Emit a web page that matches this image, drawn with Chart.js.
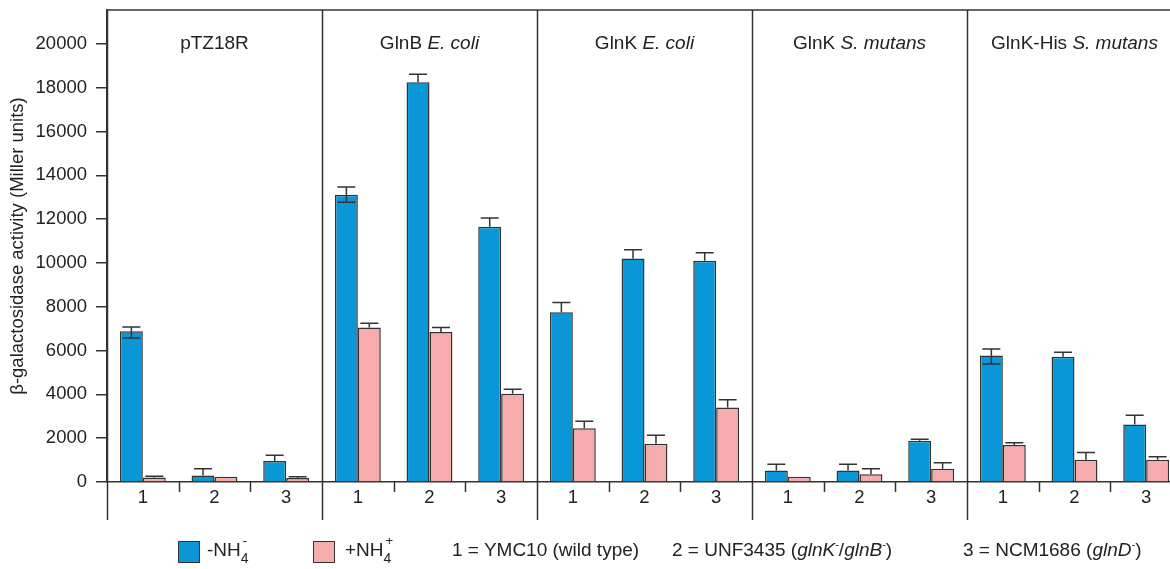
<!DOCTYPE html>
<html>
<head>
<meta charset="utf-8">
<script src="https://cdn.jsdelivr.net/npm/chart.js@4.4.1/dist/chart.umd.min.js"></script>
<style>
  html, body { margin: 0; padding: 0; background: #fff; overflow: hidden; }
  #wrap { position: relative; width: 1182px; height: 569px; }
  .lg { position: absolute; top: 539px; white-space: nowrap; line-height: 22px;
        font-family: "Liberation Sans", Arial, sans-serif; font-size: 19px; color: #222; }
  .box { position: absolute; top: 541px; width: 22px; height: 22px; box-sizing: border-box;
         border: 1.5px solid #333; }
  .st { position: relative; display: inline-block; width: 0.65em; height: 0; }
  .st span { position: absolute; left: 0; line-height: 1; }
  .st .up { left: 2px; top: -22px; font-size: 13px; }
  .st .dn { top: -5px; font-size: 14px; }
  .sp { position: relative; top: -8px; font-size: 11px; line-height: 0; }
  i { font-style: italic; }
</style>
</head>
<body>
<div id="wrap">
  <canvas id="galChart"></canvas>
  <div class="box" style="left:178px; background:#0a97d8;"></div>
  <div class="lg" style="left:207px;">-NH<span class="st"><span class="up">-</span><span class="dn">4</span></span></div>
  <div class="box" style="left:313px; background:#f6abac;"></div>
  <div class="lg" style="left:345px;">+NH<span class="st"><span class="up">+</span><span class="dn">4</span></span></div>
  <div class="lg" style="left:452px;">1 = YMC10 (wild type)</div>
  <div class="lg" style="left:672px;">2 = UNF3435 (<i>glnK</i><span class="sp">-</span>/<i>glnB</i><span class="sp">-</span>)</div>
  <div class="lg" style="left:963px;">3 = NCM1686 (<i>glnD</i><span class="sp">-</span>)</div>
</div>
<script>
// panels (plasmid / protein) and strains
const groups = ['pTZ18R', 'GlnB', 'GlnK', 'GlnK', 'GlnK-His'];
const species = ['', 'E. coli', 'E. coli', 'S. mutans', 'S. mutans'];
const strains = ['1', '2', '3'];
const labels = groups.flatMap(() => strains);

// -NH4 (blue)
const minusNH4 = [6880, 300, 960, 13120, 18250, 11650, 7750, 10200, 10100, 520, 520, 1880, 5770, 5720, 2630];
const minusUp = [200, 300, 260, 350, 370, 400, 450, 400, 370, 290, 290, 70, 300, 200, 420];
const minusDown = [300, 0, 0, 350, 0, 0, 0, 0, 0, 0, 0, 0, 380, 0, 0];

// +NH4 (pink)
const plusNH4 = [200, 240, 180, 7050, 6850, 4030, 2450, 1750, 3400, 240, 350, 600, 1690, 1020, 1020];
const plusUp = [60, 0, 60, 200, 200, 200, 320, 380, 350, 0, 250, 280, 100, 330, 130];
const plusDown = [0, 0, 0, 0, 0, 0, 0, 0, 0, 0, 0, 0, 0, 0, 0];

const yTicks = [0, 2000, 4000, 6000, 8000, 10000, 12000, 14000, 16000, 18000, 20000];

const FONT = '"Liberation Sans", Arial, sans-serif';
const LINE = '#333';

// error bars, panel frame and titles
const panelFrame = {
    id: 'panelFrame',
    afterDatasetsDraw(chart) {
        const ctx = chart.ctx;
        const y = chart.scales.y;
        ctx.save();
        ctx.strokeStyle = LINE;
        ctx.lineWidth = 1.5;
        [[minusNH4, minusUp, minusDown, 0], [plusNH4, plusUp, plusDown, 1]].forEach(([vals, up, down, d]) => {
            chart.getDatasetMeta(d).data.forEach((bar, i) => {
                const cx = bar.x;
                const half = 9;
                if (up[i] > 0) {
                    const t = y.getPixelForValue(vals[i] + up[i]);
                    ctx.beginPath();
                    ctx.moveTo(cx, bar.y); ctx.lineTo(cx, t);
                    ctx.moveTo(cx - half, t); ctx.lineTo(cx + half, t);
                    ctx.stroke();
                }
                if (down[i] > 0) {
                    const b = y.getPixelForValue(vals[i] - down[i]);
                    ctx.beginPath();
                    ctx.moveTo(cx, bar.y); ctx.lineTo(cx, b);
                    ctx.moveTo(cx - half, b); ctx.lineTo(cx + half, b);
                    ctx.stroke();
                }
            });
        });
        ctx.restore();
    },
    afterDraw(chart) {
        const ctx = chart.ctx;
        const x = chart.scales.x;
        const area = chart.chartArea;
        const step = x.getPixelForValue(1) - x.getPixelForValue(0);
        const zeroY = chart.scales.y.getPixelForValue(0);
        ctx.save();
        ctx.strokeStyle = LINE;
        ctx.lineWidth = 1.5;

        // top border
        ctx.beginPath();
        ctx.moveTo(area.left, area.top);
        ctx.lineTo(chart.width, area.top);
        ctx.stroke();

        // separators and small ticks
        for (let k = 0; k <= labels.length; k++) {
            const bx = Math.round(x.getPixelForValue(k) - step / 2) + 0.5;
            ctx.beginPath();
            if (k % 3 === 0) {
                ctx.moveTo(bx, area.top);
                ctx.lineTo(bx, 520);
            } else {
                ctx.moveTo(bx, zeroY);
                ctx.lineTo(bx, zeroY + 10);
            }
            ctx.stroke();
        }

        // panel titles
        ctx.fillStyle = '#222';
        ctx.textBaseline = 'alphabetic';
        ctx.textAlign = 'left';
        groups.forEach((g, p) => {
            const cx = x.getPixelForValue(p * 3 + 1);
            const normal = species[p] ? g + ' ' : g;
            ctx.font = '19px ' + FONT;
            const w1 = ctx.measureText(normal).width;
            ctx.font = 'italic 19px ' + FONT;
            const w2 = ctx.measureText(species[p]).width;
            const sx = cx - (w1 + w2) / 2;
            ctx.font = '19px ' + FONT;
            ctx.fillText(normal, sx, 49);
            ctx.font = 'italic 19px ' + FONT;
            ctx.fillText(species[p], sx + w1, 49);
        });
        ctx.restore();
    }
};

const ctx = document.getElementById('galChart');
new Chart(ctx, {
    type: 'bar',
    data: {
        labels: labels,
        datasets: [{
            label: '-NH4-',
            data: minusNH4,
            backgroundColor: '#0a97d8',
            borderColor: LINE,
            borderWidth: 1.5,
            categoryPercentage: 0.64,
            barPercentage: 1.0
        }, {
            label: '+NH4+',
            data: plusNH4,
            backgroundColor: '#f6abac',
            borderColor: LINE,
            borderWidth: 1.5,
            categoryPercentage: 0.64,
            barPercentage: 1.0
        }]
    },
    options: {
        responsive: true,
        maintainAspectRatio: false,
        animation: false,
        layout: { padding: { top: 10, right: 0, left: 0, bottom: 0 } },
        plugins: {
            legend: { display: false },
            tooltip: { enabled: false }
        },
        scales: {
            x: {
                grid: { display: false, drawTicks: false },
                border: { display: true, color: LINE, width: 1.5 },
                ticks: {
                    color: '#222',
                    padding: 5,
                    maxRotation: 0,
                    font: { family: FONT, size: 18.5 }
                },
                afterFit: function (scale) {
                    scale.height = 87;
                    scale.paddingLeft = 0;
                    scale.paddingRight = 0;
                }
            },
            y: {
                min: 0,
                max: 21550,
                grid: { drawOnChartArea: false, tickLength: 11, color: LINE, lineWidth: 1.5 },
                border: { display: true, color: LINE, width: 1.5 },
                afterBuildTicks: function (scale) {
                    scale.ticks = yTicks.map(v => ({ value: v }));
                },
                ticks: {
                    color: '#222',
                    padding: 9,
                    font: { family: FONT, size: 18.5 },
                    callback: function (value) { return String(value); }
                },
                title: {
                    display: true,
                    text: 'β-galactosidase activity (Miller units)',
                    color: '#222',
                    padding: { top: 7, bottom: 0 },
                    font: { family: FONT, size: 18.5 }
                },
                afterFit: function (scale) {
                    scale.width = 107;
                    scale.paddingTop = 0;
                    scale.paddingBottom = 0;
                }
            }
        }
    },
    plugins: [panelFrame]
});
</script>
</body>
</html>
